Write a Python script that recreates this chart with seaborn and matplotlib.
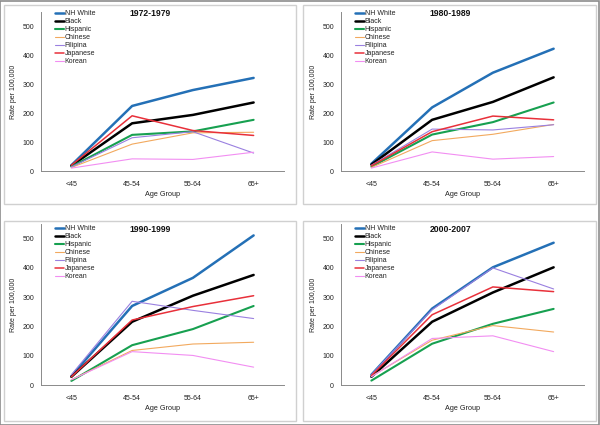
import matplotlib
matplotlib.use("Agg")
import matplotlib.pyplot as plt
import seaborn as sns
import pandas as pd
from matplotlib.patches import Rectangle

ages = ["<45", "45-54", "55-64", "65+"]
groups = ["NH White", "Black", "Hispanic", "Chinese", "Filipina", "Japanese", "Korean"]
periods = ["1972-1979", "1980-1989", "1990-1999", "2000-2007"]

nh_white = [[20, 225, 280, 322], [25, 220, 340, 423], [30, 270, 366, 511], [35, 261, 402, 486]]
black    = [[18, 165, 194, 237], [22, 177, 239, 324], [28, 216, 305, 376], [28, 216, 316, 402]]
hispanic = [[15, 125, 137, 177], [15, 126, 169, 237], [14, 136, 191, 270], [15, 141, 209, 260]]
chinese  = [[12, 93, 132, 134], [12, 105, 127, 161], [18, 118, 140, 146], [30, 153, 203, 181]]
filipina = [[14, 115, 136, 62], [20, 145, 142, 160], [35, 286, 255, 227], [35, 257, 400, 328]]
japanese = [[20, 191, 140, 123], [18, 136, 190, 177], [28, 222, 268, 305], [32, 240, 335, 319]]
korean   = [[10, 42, 40, 65], [10, 66, 41, 50], [18, 114, 101, 61], [28, 159, 168, 114]]

series = {"NH White": nh_white, "Black": black, "Hispanic": hispanic, "Chinese": chinese,
          "Filipina": filipina, "Japanese": japanese, "Korean": korean}

palette = {"NH White": "#2470b6", "Black": "#000000", "Hispanic": "#17a050",
           "Chinese": "#f2a95e", "Filipina": "#9a80e0", "Japanese": "#e8303a",
           "Korean": "#f28ef2"}
widths = {"NH White": 1.8, "Black": 1.8, "Hispanic": 1.5, "Chinese": 0.8,
          "Filipina": 0.8, "Japanese": 1.1, "Korean": 0.8}

sns.set_theme(style="white")
plt.rcParams["font.family"] = ["Liberation Sans", "DejaVu Sans"]

W, H = 600, 425
fig = plt.figure(figsize=(6, 4.25), dpi=100)
fig.patch.set_facecolor("white")

def fx(px):
    return px / W

def fy(py):
    return 1 - py / H

# outer border
fig.patches.append(Rectangle((0.0008, 0.001), 0.998, 0.997, transform=fig.transFigure,
                             fill=False, edgecolor="#8c8c8c", linewidth=1.2))

panel_frames = [(4, 5, 296, 204), (303, 5, 596, 204), (4, 221, 296, 421), (303, 221, 596, 421)]
axes_boxes = [(41, 12, 284, 171), (341, 12, 584, 171), (41, 224, 284, 385), (341, 224, 584, 385)]
first_row_y = [14, 14, 229, 229]

for i, period in enumerate(periods):
    x0, y0, x1, y1 = panel_frames[i]
    fig.patches.append(Rectangle((fx(x0), fy(y1)), fx(x1) - fx(x0), fy(y0) - fy(y1),
                                 transform=fig.transFigure, fill=False,
                                 edgecolor="#d0d0d0", linewidth=1.0))
    a0, b0, a1, b1 = axes_boxes[i]
    ax = fig.add_axes([fx(a0), fy(b1), fx(a1) - fx(a0), fy(b0) - fy(b1)])
    rows = []
    for g in groups:
        for j, a in enumerate(ages):
            rows.append({"Age": a, "Rate": series[g][i][j], "Group": g})
    df = pd.DataFrame(rows)
    sns.lineplot(data=df, x="Age", y="Rate", hue="Group", hue_order=groups,
                 size="Group", sizes=widths, size_order=groups,
                 palette=palette, ax=ax, legend=False, sort=False)
    ax.set_xlim(-0.5, 3.5)
    ax.set_ylim(0, 550)
    ax.set_yticks([0, 100, 200, 300, 400, 500])
    ax.set_xticks(range(4))
    ax.set_xticklabels(ages)
    ax.set_xlabel("Age Group", fontsize=5.2, color="#222222", labelpad=2)
    ax.set_ylabel("Rate per 100,000", fontsize=5.0, color="#222222", labelpad=4)
    ax.tick_params(axis="both", labelsize=5.0, colors="#222222", length=2, width=0.6, pad=3)
    ax.tick_params(axis="x", length=0, pad=7)
    for s in ["top", "right"]:
        ax.spines[s].set_visible(False)
    for s in ["left", "bottom"]:
        ax.spines[s].set_color("#8a8a8a")
        ax.spines[s].set_linewidth(0.7)
    ax.set_facecolor("white")
    axh = b1 - b0
    ty = 1 - (first_row_y[i] - b0) / axh
    ax.text(0.45, ty, period, transform=ax.transAxes, ha="center", va="center",
            fontsize=6.2, fontweight="bold", color="#111111")
    handles = [plt.Line2D([], [], color=palette[g], lw=widths[g]) for g in groups]
    anchor_y = 1 - (first_row_y[i] - 6.3 - b0) / axh
    anchor_x = (14 - 2.8) / (a1 - a0)
    leg = ax.legend(handles, groups, loc="upper left", bbox_to_anchor=(anchor_x, anchor_y),
                    frameon=False, fontsize=5.0, handlelength=1.3, handletextpad=0.1,
                    labelspacing=0.14, borderaxespad=0.0)
    for t in leg.get_texts():
        t.set_color("#222222")

fig.savefig("out.png", dpi=100, facecolor="white")
